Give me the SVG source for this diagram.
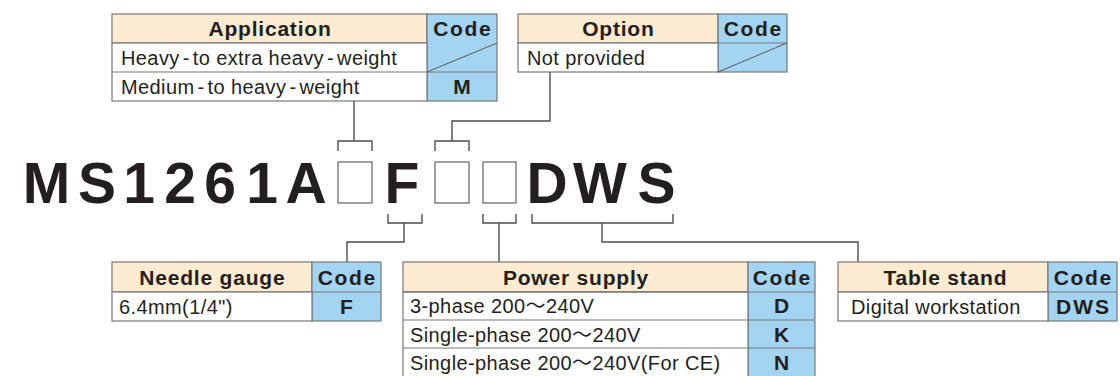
<svg xmlns="http://www.w3.org/2000/svg" width="1120" height="376" viewBox="0 0 1120 376">
<style>
.hdr{fill:#fdebd2;stroke:#77787b;stroke-width:1.2}
.code{fill:#a3d4f2;stroke:#77787b;stroke-width:1.2}
.cell{fill:#ffffff;stroke:#77787b;stroke-width:1.2}
.grid{stroke:#77787b;stroke-width:1.2;fill:none}
.diag{stroke:#58595b;stroke-width:1;fill:none}
.ht{font-family:"Liberation Sans",Arial,sans-serif;font-weight:bold;font-size:21px;letter-spacing:0.8px;fill:#231f20;text-anchor:middle}
.ch{font-family:"Liberation Sans",Arial,sans-serif;font-weight:bold;font-size:21px;letter-spacing:1.6px;fill:#231f20;text-anchor:middle}
.cv{font-family:"Liberation Sans",Arial,sans-serif;font-weight:bold;font-size:21px;letter-spacing:2px;fill:#231f20;text-anchor:middle}
.bt{font-family:"Liberation Sans",Arial,"Noto Sans CJK JP",sans-serif;font-size:20px;letter-spacing:0.4px;fill:#231f20}
.big{font-family:"Liberation Sans",Arial,sans-serif;font-weight:bold;font-size:57px;fill:#231f20;text-anchor:middle}
.box{fill:none;stroke:#6d6e71;stroke-width:1.3}
.con{fill:none;stroke:#4d4d4f;stroke-width:1.4}
</style>
<rect width="1120" height="376" fill="#ffffff"/>

<g id="application">
<rect class="hdr" x="112" y="14" width="315" height="29"/>
<rect class="code" x="427" y="14" width="70" height="87"/>
<rect class="cell" x="112" y="43" width="315" height="58"/>
<path class="grid" d="M112,72 H497"/>
<line class="diag" x1="427" y1="72" x2="497" y2="43"/>
<text class="ht" x="270" y="36">Application</text>
<text class="ch" x="462.8" y="36">Code</text>
<text class="bt" x="121" y="65">Heavy<tspan dx="3">-</tspan><tspan dx="3">to extra heavy</tspan><tspan dx="3">-</tspan><tspan dx="3">weight</tspan></text>
<text class="bt" x="121" y="94">Medium<tspan dx="3">-</tspan><tspan dx="3">to heavy</tspan><tspan dx="3">-</tspan><tspan dx="3">weight</tspan></text>
<text class="cv" x="463" y="94">M</text>
</g>

<g id="option">
<rect class="hdr" x="518" y="14" width="200" height="29"/>
<rect class="code" x="718" y="14" width="69" height="58"/>
<rect class="cell" x="518" y="43" width="200" height="29"/>
<path class="grid" d="M718,43 H787"/>
<line class="diag" x1="718" y1="72" x2="787" y2="43"/>
<text class="ht" x="618.4" y="36">Option</text>
<text class="ch" x="753.3" y="36">Code</text>
<text class="bt" x="527" y="65">Not provided</text>
</g>

<g id="model">
<text class="big" y="203"><tspan x="46.5 97 139 180 220 262 306">MS1261A</tspan><tspan x="402">F</tspan><tspan x="547 600 656.5">DWS</tspan></text>
<rect class="box" x="338" y="162" width="34" height="41"/>
<rect class="box" x="435" y="162" width="34" height="41"/>
<rect class="box" x="483" y="162" width="33" height="41"/>
</g>

<g id="connectors">
<path class="con" d="M338,151 V141 H372 V151"/>
<path class="con" d="M354,101 V141"/>
<path class="con" d="M435,151 V141 H469 V151"/>
<path class="con" d="M550,72 V121 H452 V141"/>
<path class="con" d="M388,214 V223 H422 V214"/>
<path class="con" d="M404,223 V242 H347 V262"/>
<path class="con" d="M483,214 V223 H516 V214"/>
<path class="con" d="M499,223 V262"/>
<path class="con" d="M532,214 V223 H673 V214"/>
<path class="con" d="M602,223 V242 H858 V262"/>
</g>

<g id="needle-gauge">
<rect class="hdr" x="112" y="262" width="200" height="30"/>
<rect class="code" x="312" y="262" width="69" height="59"/>
<rect class="cell" x="112" y="292" width="200" height="29"/>
<path class="grid" d="M312,292 H381"/>
<text class="ht" x="212.4" y="285">Needle gauge</text>
<text class="ch" x="347.3" y="285">Code</text>
<text class="bt" x="119" y="314">6.4mm(1/4")</text>
<text class="cv" x="347.5" y="314">F</text>
</g>

<g id="power-supply">
<rect class="hdr" x="403" y="262" width="345" height="30"/>
<rect class="code" x="748" y="262" width="67" height="118"/>
<rect class="cell" x="403" y="292" width="345" height="88"/>
<path class="grid" d="M403,292 H815 M403,320 H815 M403,348 H815"/>
<text class="ht" x="576" y="285">Power supply</text>
<text class="ch" x="782.3" y="285">Code</text>
<text class="bt" x="410" y="313">3-phase 200～240V</text>
<text class="bt" x="410" y="342">Single-phase 200～240V</text>
<text class="bt" x="410" y="370">Single-phase 200～240V(For CE)</text>
<text class="cv" x="782.5" y="313">D</text>
<text class="cv" x="782.5" y="342">K</text>
<text class="cv" x="782.5" y="370">N</text>
</g>

<g id="table-stand">
<rect class="hdr" x="838" y="262" width="210" height="30"/>
<rect class="code" x="1048" y="262" width="69" height="59"/>
<rect class="cell" x="838" y="292" width="210" height="29"/>
<path class="grid" d="M1048,292 H1117"/>
<text class="ht" x="945.4" y="285">Table stand</text>
<text class="ch" x="1083.3" y="285">Code</text>
<text class="bt" x="851" y="314">Digital workstation</text>
<text class="cv" x="1083.5" y="314">DWS</text>
</g>
</svg>
